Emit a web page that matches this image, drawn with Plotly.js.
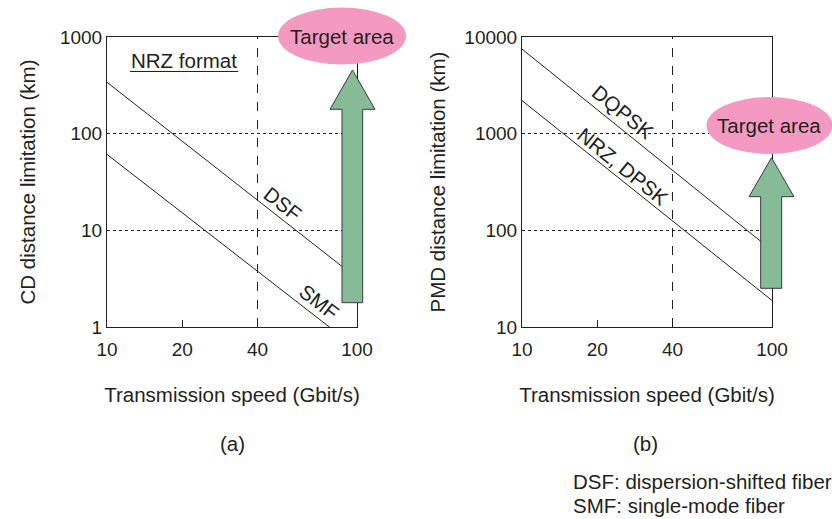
<!DOCTYPE html>
<html>
<head>
<meta charset="utf-8">
<script src="https://cdn.plot.ly/plotly-3.0.1.min.js"></script>
<style>html,body{margin:0;padding:0;background:#fff;}#chart{width:832px;height:519px;}</style>
</head>
<body>
<div id="chart"></div>
<script>
// ---- data ----
const speedGbps = [10, 100];
const cdSMF = [61, 0.6];
const cdDSF = [340, 3.2];
const pmdNRZ = [2200, 18.8];
const pmdDQPSK = [7500, 62];
const xTickVals = [10, 20, 40, 100];
const xTickText = ['10', '20', '40', '100'];
const cdTickVals = [1, 10, 100, 1000];
const cdTickText = ['1', '10', '100', '1000'];
const pmdTickVals = [10, 100, 1000, 10000];
const pmdTickText = ['10', '100', '1000', '10000'];
const markerSpeed = 40;

// ---- layout helpers ----
const W = 832, H = 519;
const M = {l: 107, r: 60, t: 37, b: 192};
const PW = W - M.l - M.r, PH = H - M.t - M.b;
const px = x => (x - M.l) / PW;
const py = y => (H - M.b - y) / PH;
const FONT = 'Liberation Sans, Arial, Helvetica, sans-serif';
const TXT = '#231f20';
const PINK = '#f49ac2';
const GREEN = '#86bb97';
const FS = 20.5;

const lineStyle = {color: '#231f20', width: 1};
const traces = [
  {x: speedGbps, y: cdDSF, mode: 'lines', line: lineStyle, xaxis: 'x', yaxis: 'y', name: 'DSF', hoverinfo: 'x+y'},
  {x: speedGbps, y: cdSMF, mode: 'lines', line: lineStyle, xaxis: 'x', yaxis: 'y', name: 'SMF', hoverinfo: 'x+y'},
  {x: speedGbps, y: pmdDQPSK, mode: 'lines', line: lineStyle, xaxis: 'x2', yaxis: 'y2', name: 'DQPSK', hoverinfo: 'x+y'},
  {x: speedGbps, y: pmdNRZ, mode: 'lines', line: lineStyle, xaxis: 'x2', yaxis: 'y2', name: 'NRZ, DPSK', hoverinfo: 'x+y'}
];

function xAxis(domain, anchor) {
  return {
    type: 'log', range: [1, 2], domain: domain, anchor: anchor,
    tickvals: xTickVals, ticktext: xTickText,
    ticks: 'inside', ticklen: 7, tickcolor: '#231f20', tickwidth: 1,
    ticklabelstandoff: 5,
    showgrid: false, zeroline: false,
    showline: true, mirror: true, linecolor: '#231f20', linewidth: 1,
    tickfont: {family: FONT, size: 19, color: TXT},
    title: {text: 'Transmission speed (Gbit/s)', font: {family: FONT, size: FS, color: TXT}, standoff: 28}
  };
}
function yAxis(range, vals, text, title, anchor, standoff) {
  return {
    type: 'log', range: range, domain: [0, 1], anchor: anchor,
    tickvals: vals, ticktext: text, ticks: '',
    showgrid: true, griddash: 'dot', gridcolor: '#231f20', gridwidth: 1,
    zeroline: false,
    showline: true, mirror: true, linecolor: '#231f20', linewidth: 1,
    tickfont: {family: FONT, size: 19, color: TXT},
    title: {text: title, font: {family: FONT, size: FS, color: TXT}, standoff: standoff}
  };
}

function arrowPath(xl, xr, hl, hr, bottom, base, tip) {
  const tx = (hl + hr) / 2;
  const pts = [[xl, bottom], [xl, base], [hl, base], [tx, tip], [hr, base], [xr, base], [xr, bottom]];
  return 'M ' + pts.map(p => px(p[0]).toFixed(5) + ',' + py(p[1]).toFixed(5)).join(' L ') + ' Z';
}

const shapes = [
  // dashed reference line at 40 Gbit/s
  {type: 'line', xref: 'x domain', yref: 'y domain', x0: Math.log10(markerSpeed / 10), x1: Math.log10(markerSpeed / 10), y0: 0, y1: 1,
   line: {color: '#231f20', width: 1, dash: 'dash'}, layer: 'below'},
  {type: 'line', xref: 'x2 domain', yref: 'y2 domain', x0: Math.log10(markerSpeed / 10), x1: Math.log10(markerSpeed / 10), y0: 0, y1: 1,
   line: {color: '#231f20', width: 1, dash: 'dash'}, layer: 'below'},
  // NRZ format underline
  {type: 'line', xref: 'paper', yref: 'paper', x0: px(130), x1: px(238), y0: py(71.5), y1: py(71.5), line: {color: '#231f20', width: 1}},
  // arrows
  {type: 'path', xref: 'paper', yref: 'paper', path: arrowPath(342, 362.7, 330, 375, 302.7, 109.3, 70),
   fillcolor: GREEN, line: {color: '#3a3a3a', width: 1}, layer: 'above'},
  {type: 'path', xref: 'paper', yref: 'paper', path: arrowPath(760.7, 781.7, 749, 794, 288.3, 196.7, 157.7),
   fillcolor: GREEN, line: {color: '#3a3a3a', width: 1}, layer: 'above'},
  // target ellipses
  {type: 'circle', xref: 'paper', yref: 'paper', x0: px(278), x1: px(406), y0: py(64.5), y1: py(7.5),
   fillcolor: PINK, line: {width: 0}, layer: 'above'},
  {type: 'circle', xref: 'paper', yref: 'paper', x0: px(706.5), x1: px(832.5), y0: py(154), y1: py(97),
   fillcolor: PINK, line: {width: 0}, layer: 'above'}
];

function note(text, x, y, opts) {
  return Object.assign({text: text, xref: 'paper', yref: 'paper', x: px(x), y: py(y), xanchor: 'center', yanchor: 'middle',
    showarrow: false, font: {family: FONT, size: FS, color: TXT}}, opts || {});
}

const annotations = [
  note('NRZ format', 184, 60),
  note('DSF', 282.5, 204, {textangle: 38}),
  note('SMF', 319, 301, {textangle: 38}),
  note('DQPSK', 622.5, 111.7, {textangle: 39}),
  note('NRZ, DPSK', 623, 166.7, {textangle: 39}),
  note('Target area', 342, 36),
  note('Target area', 769, 125.5),
  note('(a)', 232, 443),
  note('(b)', 645, 443),
  note('DSF: dispersion-shifted fiber', 572, 482, {xanchor: 'left', borderpad: 0}),
  note('SMF: single-mode fiber', 572, 505, {xanchor: 'left', borderpad: 0})
];

const layout = {
  width: W, height: H, margin: M, showlegend: false,
  paper_bgcolor: '#ffffff', plot_bgcolor: '#ffffff',
  font: {family: FONT, color: TXT},
  xaxis: xAxis([0, 250 / PW], 'y'),
  yaxis: yAxis([0, 3], cdTickVals, cdTickText, 'CD distance limitation (km)', 'x', 18),
  xaxis2: xAxis([(522 - M.l) / PW, 1], 'y2'),
  yaxis2: yAxis([1, 4], pmdTickVals, pmdTickText, 'PMD distance limitation (km)', 'x2', 13),
  shapes: shapes, annotations: annotations
};

Plotly.newPlot('chart', traces, layout, {displayModeBar: false, staticPlot: true});
</script>
</body>
</html>
